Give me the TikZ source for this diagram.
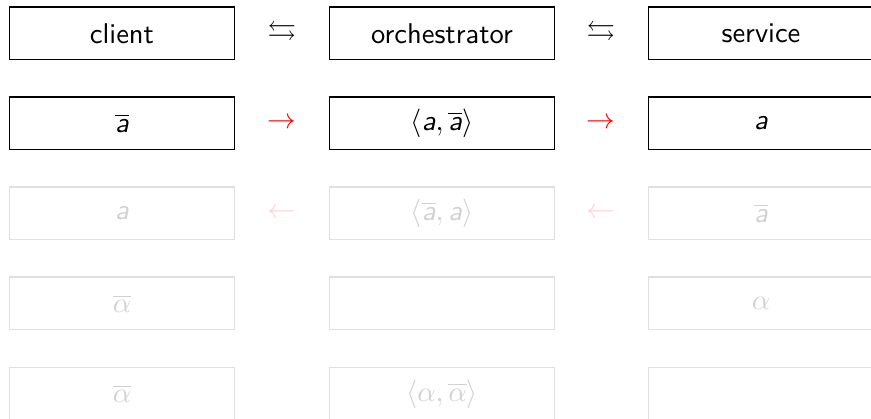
\documentclass[tikz,border=0pt]{standalone}
\usepackage{amssymb}
\newcommand{\ia}{\textsf{\itshape a}}
\newcommand{\ib}{\overline{\textsf{\itshape a}}}
\begin{document}
\begin{tikzpicture}[x=0.35pt, y=-0.35pt,
  box/.style={draw, minimum width=79pt, minimum height=18.5pt, font=\sffamily},
  faded/.style={draw=black!12, text=black!18},
  sym/.style={font=\sffamily}]
\useasboundingbox (0,0) rectangle (871,419);
% header
\node[box] (client) at (122,33.5){client};
\node[box] (orch) at (442,33.5){orchestrator};
\node[box] (service) at (761,33.5){service};
\node[sym] (h1) at (282,33.5){$\leftrightarrows$};
\node[sym] (h2) at (601,33.5){$\leftrightarrows$};
% forward step
\node[box] (c1) at (122,123.5){$\ib$};
\node[box] (o1) at (442,123.5){$\langle\ia,\ib\rangle$};
\node[box] (s1) at (761,123.5){$\ia$};
\node[sym, red] (f1) at (282,123.5){$\rightarrow$};
\node[sym, red] (f2) at (601,123.5){$\rightarrow$};
% backward step
\node[box, faded] (c2) at (122,213.5){$\ia$};
\node[box, faded] (o2) at (442,213.5){$\langle\ib,\ia\rangle$};
\node[box, faded] (s2) at (761,213.5){$\ib$};
\node[sym, red!18] (b1) at (282,213.5){$\leftarrow$};
\node[sym, red!18] (b2) at (601,213.5){$\leftarrow$};
% greek rows
\node[box, faded] (c3) at (122,303.5){$\overline{\alpha}$};
\node[box, faded] (o3) at (442,303.5){};
\node[box, faded] (s3) at (761,303.5){$\alpha$};
\node[box, faded] (c4) at (122,394){$\overline{\alpha}$};
\node[box, faded] (o4) at (442,394){$\langle\alpha,\overline{\alpha}\rangle$};
\node[box, faded] (s4) at (761,394){};
\end{tikzpicture}
\end{document}
